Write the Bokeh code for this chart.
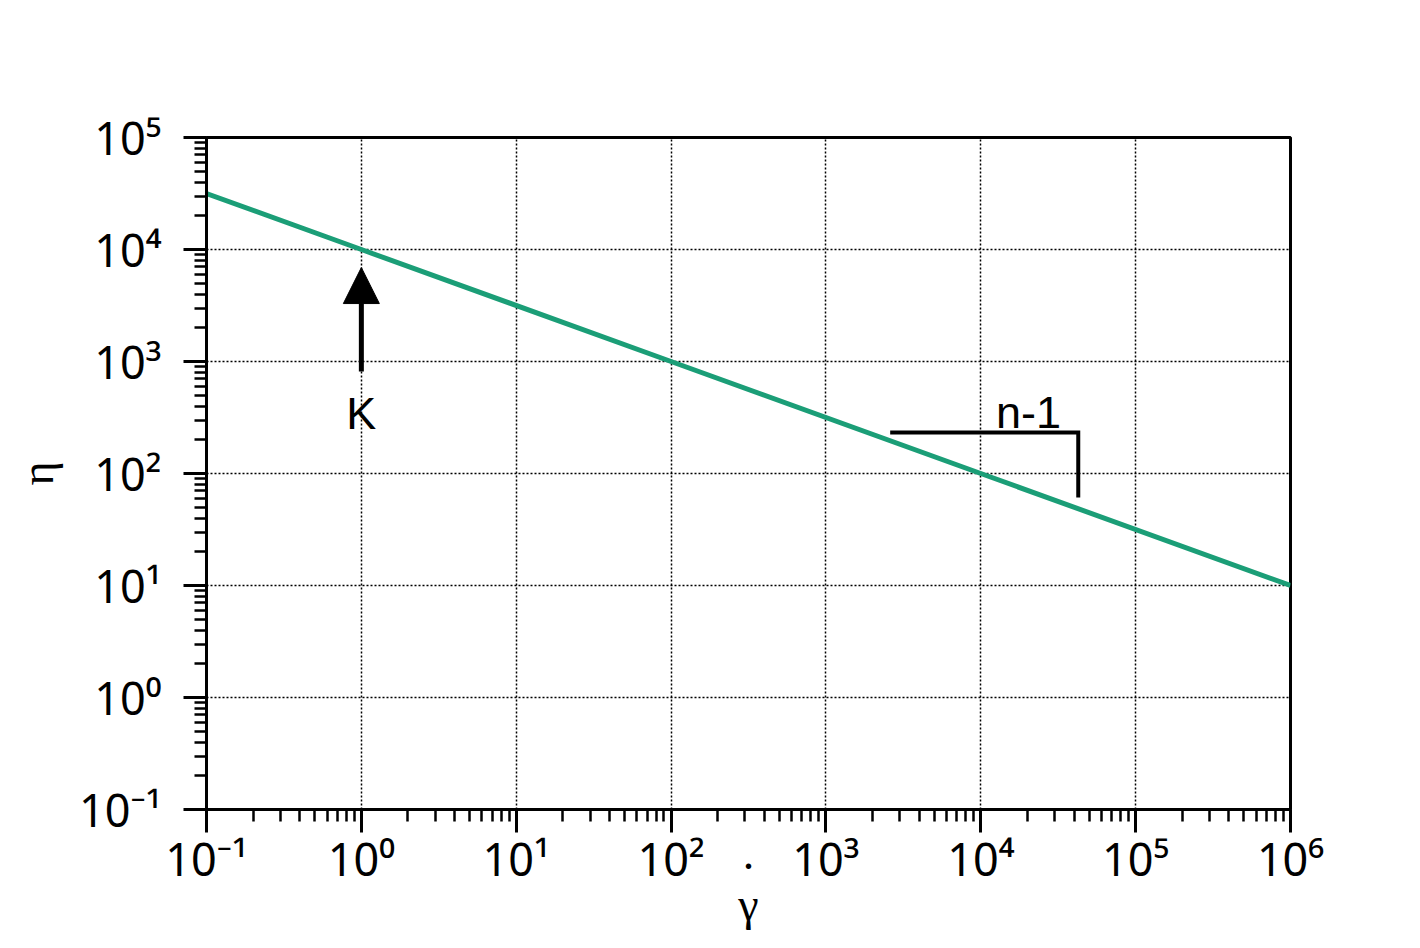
from bokeh.plotting import figure
from bokeh.models import Range1d, LogTicker, Arrow, NormalHead
from bokeh.core.properties import value
from bokeh.embed import file_html
from bokeh.resources import INLINE

# ---- data ----
shear_rate = [0.1, 1, 100, 1e4, 1e6]
viscosity = [31623, 10000, 1000, 100, 10]

x_tick_values = [0.1, 1, 10, 100, 1e3, 1e4, 1e5, 1e6]
x_tick_labels = ["10⁻¹", "10⁰", "10¹", "10²", "10³", "10⁴", "10⁵", "10⁶"]
y_tick_values = [0.1, 1, 10, 100, 1e3, 1e4, 1e5]
y_tick_labels = ["10⁻¹", "10⁰", "10¹", "10²", "10³", "10⁴", "10⁵"]

# annotation geometry (data units)
k_arrow_x = [1, 1]
k_arrow_y = [815, 6900]
k_label_pos = [1, 344]
slope_x = [2600, 42600, 42600]
slope_y = [232, 232, 61]
slope_label_pos = [20300, 351]

SANS = "Liberation Sans"
TICK_FONT = "Noto Sans"
SERIF = "Liberation Serif"

p = figure(width=1404, height=932, x_axis_type="log", y_axis_type="log",
           x_range=Range1d(0.1, 1e6), y_range=Range1d(0.1, 1e5),
           output_backend="svg", toolbar_location=None,
           min_border_left=206, min_border_right=114,
           min_border_top=137, min_border_bottom=123)

p.background_fill_color = "white"
p.border_fill_color = "white"
p.outline_line_color = "black"
p.outline_line_width = 3

p.xaxis.ticker = LogTicker(num_minor_ticks=10)
p.yaxis.ticker = LogTicker(num_minor_ticks=10)
p.xaxis.major_label_overrides = dict(zip(x_tick_values, x_tick_labels))
p.yaxis.major_label_overrides = dict(zip(y_tick_values, y_tick_labels))

for ax in (p.xaxis[0], p.yaxis[0]):
    ax.axis_line_width = 3
    ax.axis_line_color = "black"
    ax.major_tick_line_width = 3
    ax.major_tick_line_color = "black"
    ax.minor_tick_line_width = 2.5
    ax.minor_tick_line_color = "black"
    ax.major_tick_in = 0
    ax.major_tick_out = 23
    ax.minor_tick_in = 0
    ax.minor_tick_out = 12
    ax.major_label_text_font = TICK_FONT
    ax.major_label_text_font_size = "45px"
    ax.major_label_text_color = "black"
    ax.axis_label_text_font = SERIF
    ax.axis_label_text_font_size = "46px"
    ax.axis_label_text_font_style = "normal"
    ax.axis_label_text_color = "black"

p.xaxis.major_label_standoff = -5
p.yaxis.major_label_standoff = 22
# gamma-dot: the dot sits one line above the gamma, between the tick labels
p.xaxis.axis_label = ".\nγ"
p.xaxis.axis_label_text_line_height = 1.0
p.xaxis.axis_label_standoff = -64
p.yaxis.axis_label = "η"
p.yaxis.axis_label_standoff = 13

p.grid.grid_line_color = "black"
p.grid.grid_line_dash = "2 2"
p.grid.grid_line_width = 1.5
p.grid.minor_grid_line_color = None

# main power-law line
p.line(shear_rate, viscosity, line_color="#1b9e77", line_width=5)

# K arrow
p.add_layout(Arrow(end=NormalHead(size=36, fill_color="black", line_color="black", line_width=1),
                   x_start=k_arrow_x[0], y_start=k_arrow_y[0],
                   x_end=k_arrow_x[1], y_end=k_arrow_y[1],
                   line_color="black", line_width=5))
p.text(x=[k_label_pos[0]], y=[k_label_pos[1]], text=["K"],
       text_font=value(SANS), text_font_size="45px",
       text_align="center", text_baseline="middle", text_color="black")

# slope triangle
p.line(slope_x, slope_y, line_color="black", line_width=4, line_join="miter")
p.text(x=[slope_label_pos[0]], y=[slope_label_pos[1]], text=["n-1"],
       text_font=value(SANS), text_font_size="45px",
       text_align="center", text_baseline="middle", text_color="black")

open("out.html", "w").write(file_html(p, INLINE))
